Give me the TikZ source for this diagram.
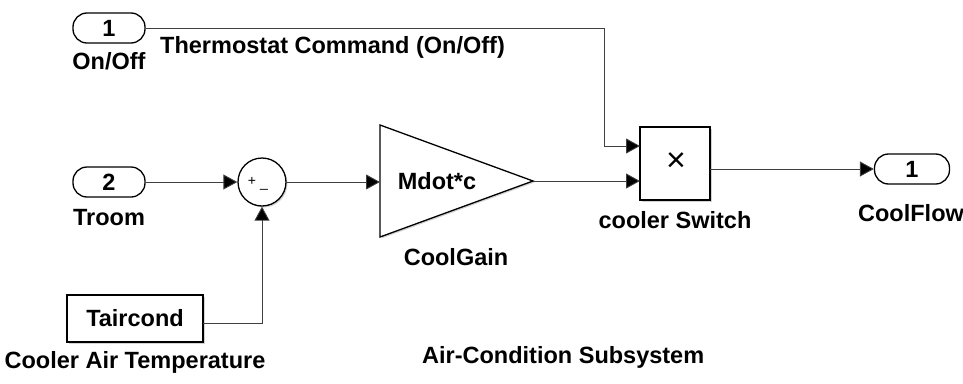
\documentclass[tikz,border=0pt]{standalone}
\usepackage{fontspec}
\setmainfont{Liberation Sans}
\usetikzlibrary{arrows.meta,shadows}
\begin{document}
\begin{tikzpicture}[x=1pt,y=-1pt,
  lblfont/.style={font=\bfseries\fontsize{23.5}{26}\selectfont},
  port/.style={draw, line width=1.3pt, rounded corners=14pt, minimum width=72pt, minimum height=30pt, inner sep=0pt, fill=white, lblfont},
  blk/.style={draw, line width=1.3pt, fill=white, drop shadow={shadow xshift=1.5pt, shadow yshift=-1.5pt, opacity=0.35}},
  lbl/.style={inner sep=0pt, lblfont},
  sig/.style={draw=black!75, line width=0.9pt},
  arr/.style={sig, -{Triangle[length=14pt,width=15pt,fill=black]}}
]
\useasboundingbox (0,0) rectangle (963,383);

% inports / outport
\node[port] (in1) at (109,28) {1};
\node[lbl] (in1lbl) at (109,61) {On/Off};
\node[lbl, anchor=west] (cmdlbl) at (160,47) {Thermostat Command (On/Off)};
\node[port] (in2) at (109,182) {2};
\node[lbl] (in2lbl) at (109,218) {Troom};
\node[port, minimum width=75pt] (out1) at (912,169) {1};
\node[lbl] (outlbl) at (911,213) {CoolFlow};

% sum
\node[circle, draw, line width=1.3pt, minimum size=48pt, inner sep=0pt, fill=white, drop shadow={shadow xshift=1.5pt, shadow yshift=-1.5pt, opacity=0.35}] (sum) at (262,182) {};
\node[inner sep=0pt, font=\fontsize{14}{14}\selectfont] (plus) at (252,181) {+};
\node[inner sep=0pt, font=\fontsize{14}{14}\selectfont] (minus) at (264,189) {\_};

% gain
\coordinate (gin) at (380,182);
\coordinate (gout) at (533,181);
\path[blk] (380,125) -- (gout) -- (380,237) -- cycle;
\node[lbl] (gaintxt) at (437,181) {Mdot*c};
\node[lbl] (gainlbl) at (456,257) {CoolGain};

% switch (product)
\node[blk, minimum width=70pt, minimum height=73pt, inner sep=0pt] (sw) at (675,163.5) {};
\node[inner sep=0pt, font=\fontsize{34}{34}\selectfont] (times) at (676,162) {×};
\node[lbl] (swlbl) at (675,220) {cooler Switch};
\coordinate (swin1) at (640,146);
\coordinate (swin2) at (640,181);
\coordinate (swout) at (710,169);

% constant
\node[blk, minimum width=136pt, minimum height=47pt, inner sep=0pt, lblfont] (tc) at (135,318.5) {Taircond};
\coordinate (tcout) at (203,323);
\node[lbl] (tclbl) at (135,362) {Cooler Air Temperature};
\node[lbl, anchor=west] (title) at (422,357) {Air-Condition Subsystem};

% connectors
\draw[arr] (in1.east) -- (604,28) -- (604,146) -- (swin1);
\draw[arr] (in2.east) -- (sum.west);
\draw[arr] (sum.east) -- (gin);
\draw[arr] (gout) -- (swin2);
\draw[arr] (swout) -- (out1.west);
\draw[arr] (tcout) -| (sum.south);
\end{tikzpicture}
\end{document}
